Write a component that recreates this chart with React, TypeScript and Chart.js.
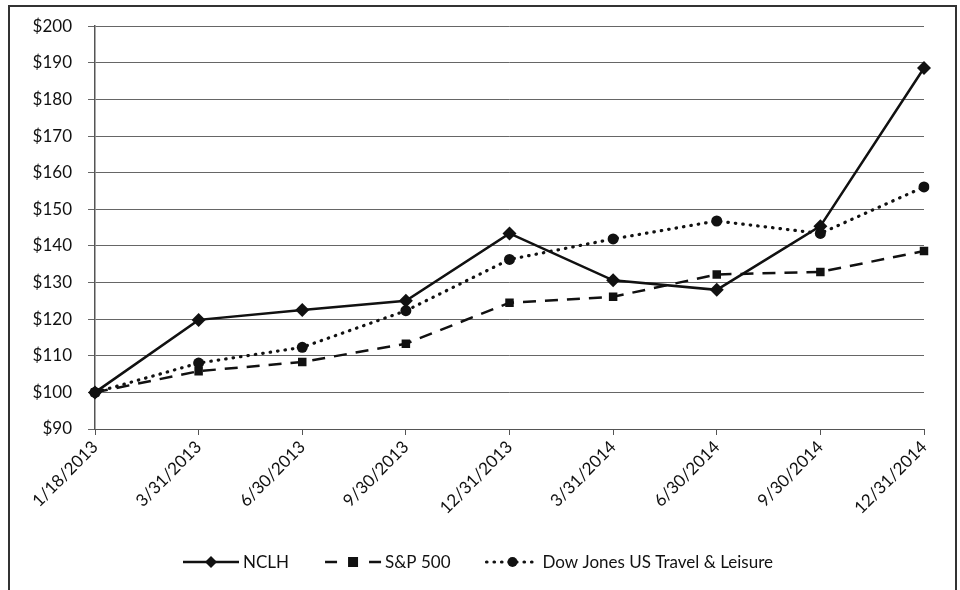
import React, { useEffect, useRef } from "react";
import { Chart, registerables } from "chart.js";

Chart.register(...registerables);

const categories = [
  "1/18/2013", "3/31/2013", "6/30/2013", "9/30/2013", "12/31/2013",
  "3/31/2014", "6/30/2014", "9/30/2014", "12/31/2014",
];
const nclh = [100, 119.8, 122.5, 125.0, 143.4, 130.6, 128.0, 145.4, 188.6];
const sp500 = [100, 105.8, 108.3, 113.3, 124.5, 126.1, 132.2, 132.9, 138.6];
const dowJones = [100, 108.0, 112.3, 122.3, 136.3, 141.9, 146.8, 143.4, 156.1];
const seriesNames = ["NCLH", "S&P 500", "Dow Jones US Travel & Leisure"];
const yMin = 90;
const yMax = 200;
const yStep = 10;

const FONT = "Lato, 'Open Sans', sans-serif";

const legendPlugin = {
  id: "customLegendFrame",
  afterDraw(chart: any) {
    const ctx = chart.ctx;
    ctx.save();
    // outer frame
    ctx.strokeStyle = "#333";
    ctx.lineWidth = 2;
    ctx.strokeRect(9, 6, 947, 620);
    // legend
    const y = 562;
    ctx.font = "17px " + FONT;
    ctx.textBaseline = "middle";
    ctx.fillStyle = "#111";
    let x = 183;
    chart.data.datasets.forEach((ds: any, i: number) => {
      const sampleW = i === 2 ? 52 : 56;
      ctx.strokeStyle = "#111";
      ctx.lineWidth = ds.borderWidth;
      ctx.lineCap = i === 2 ? "round" : "butt";
      ctx.setLineDash(ds.borderDash || []);
      ctx.beginPath();
      if (i === 1) {
        ctx.moveTo(x, y); ctx.lineTo(x + 12, y);
        ctx.moveTo(x + sampleW - 12, y); ctx.lineTo(x + sampleW, y);
      } else {
        ctx.moveTo(x, y); ctx.lineTo(x + sampleW, y);
      }
      ctx.stroke();
      ctx.setLineDash([]);
      const cx = x + sampleW / 2;
      ctx.fillStyle = "#111";
      ctx.beginPath();
      if (ds.pointStyle === "rectRot") {
        ctx.moveTo(cx, y - 6); ctx.lineTo(cx + 6, y); ctx.lineTo(cx, y + 6); ctx.lineTo(cx - 6, y); ctx.closePath();
      } else if (ds.pointStyle === "rect") {
        ctx.rect(cx - 5, y - 5, 10, 10);
      } else {
        ctx.arc(cx, y, 5, 0, Math.PI * 2);
      }
      ctx.fill();
      ctx.fillStyle = "#111";
      ctx.fillText(ds.label, x + sampleW + 4, y + 1);
      x += sampleW + 4 + ctx.measureText(ds.label).width + 36;
    });
    ctx.restore();
  },
};

export default function App() {
  const ref = useRef<HTMLCanvasElement>(null);
  useEffect(() => {
    const canvas = ref.current!;
    const chart = new Chart(canvas, {
      type: "line",
      data: {
        labels: categories,
        datasets: [
          {
            label: seriesNames[0],
            data: nclh,
            borderColor: "#111",
            backgroundColor: "#111",
            borderWidth: 2.5,
            pointStyle: "rectRot",
            pointRadius: 7,
            pointBorderWidth: 0,
            tension: 0,
          },
          {
            label: seriesNames[1],
            data: sp500,
            borderColor: "#111",
            backgroundColor: "#111",
            borderWidth: 2.5,
            borderDash: [13, 9],
            pointStyle: "rect",
            pointRadius: 6,
            pointBorderWidth: 0,
            tension: 0,
          },
          {
            label: seriesNames[2],
            data: dowJones,
            borderColor: "#111",
            backgroundColor: "#111",
            borderWidth: 3.2,
            borderDash: [0.5, 7],
            borderCapStyle: "round",
            pointStyle: "circle",
            pointRadius: 5.5,
            pointBorderWidth: 0,
            tension: 0,
          },
        ],
      },
      options: {
        animation: false,
        responsive: false,
        devicePixelRatio: 1,
        layout: { padding: { top: 23, right: 36, left: 0, bottom: 0 } },
        plugins: {
          legend: { display: false },
          tooltip: { enabled: false },
        },
        scales: {
          x: {
            offset: false,
            grid: {
              drawOnChartArea: false,
              drawTicks: true,
              tickLength: 6,
              color: "#555",
            },
            border: { color: "#555", width: 1 },
            ticks: {
              minRotation: 45,
              maxRotation: 45,
              autoSkip: false,
              color: "#111",
              padding: 2,
              font: { family: FONT, size: 17 },
            },
            afterFit(scale: any) {
              scale.height = 161;
            },
          },
          y: {
            min: yMin,
            max: yMax,
            grid: {
              color: "#666",
              lineWidth: 1,
              tickLength: 7,
            },
            border: { color: "#555", width: 1.5 },
            ticks: {
              stepSize: yStep,
              color: "#111",
              padding: 16,
              font: { family: FONT, size: 17 },
              callback: (v: any) => "$" + v,
            },
            afterFit(scale: any) {
              scale.width = 95;
            },
          },
        },
      },
      plugins: [legendPlugin],
    });
    return () => chart.destroy();
  }, []);
  return (
    <div style={{ position: "fixed", left: 0, top: 0, width: 960, height: 590, background: "#fff" }}>
      <canvas ref={ref} width={960} height={590} style={{ width: 960, height: 590 }} />
    </div>
  );
}
